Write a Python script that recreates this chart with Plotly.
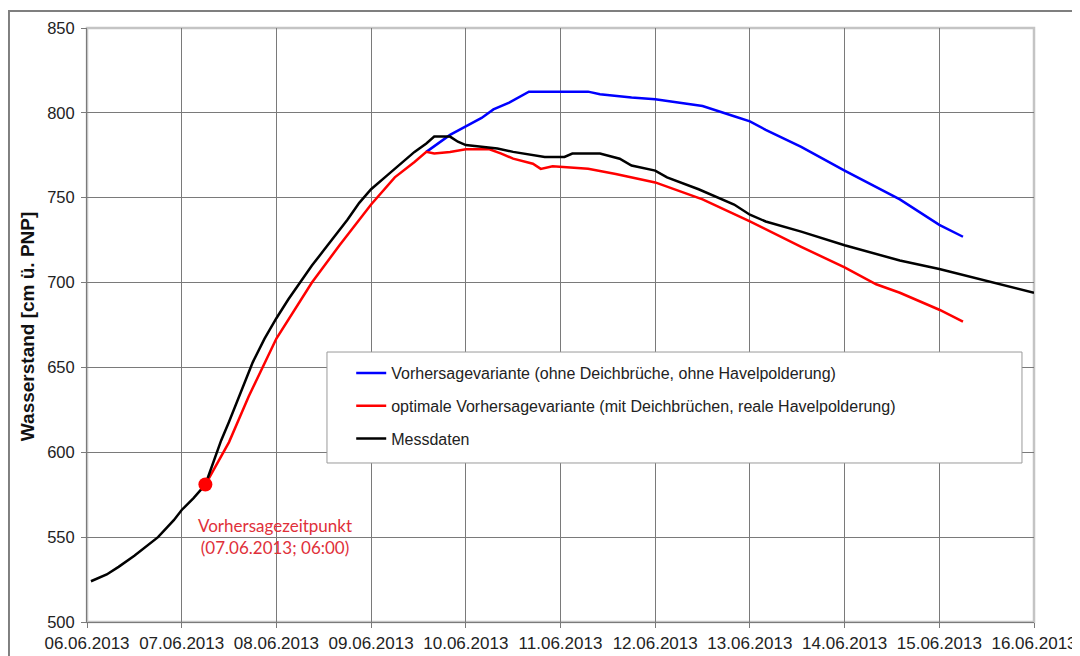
import plotly.graph_objects as go

# ---------------- data ----------------
mess_t = ["2013-06-06 01:00", "2013-06-06 05:00", "2013-06-06 08:00", "2013-06-06 12:00",
          "2013-06-06 18:00", "2013-06-06 22:00", "2013-06-07 00:00", "2013-06-07 03:00",
          "2013-06-07 06:00", "2013-06-07 08:00", "2013-06-07 10:00", "2013-06-07 12:00",
          "2013-06-07 15:00", "2013-06-07 18:00", "2013-06-07 21:00", "2013-06-08 00:00",
          "2013-06-08 03:00", "2013-06-08 06:00", "2013-06-08 09:00", "2013-06-08 12:00",
          "2013-06-08 15:00", "2013-06-08 18:00", "2013-06-08 21:00", "2013-06-09 00:00",
          "2013-06-09 04:00", "2013-06-09 08:00", "2013-06-09 11:00", "2013-06-09 14:00",
          "2013-06-09 16:00", "2013-06-09 20:00", "2013-06-09 22:00", "2013-06-10 00:00",
          "2013-06-10 04:00", "2013-06-10 08:00", "2013-06-10 12:00", "2013-06-10 17:00",
          "2013-06-10 20:00", "2013-06-11 01:00", "2013-06-11 03:00", "2013-06-11 10:00",
          "2013-06-11 15:00", "2013-06-11 18:00", "2013-06-12 00:00", "2013-06-12 03:00",
          "2013-06-12 11:00", "2013-06-12 20:00", "2013-06-13 00:00", "2013-06-13 04:00",
          "2013-06-13 13:00", "2013-06-14 00:00", "2013-06-14 08:00", "2013-06-14 14:00",
          "2013-06-15 00:00", "2013-06-15 05:00", "2013-06-15 12:00", "2013-06-15 15:00",
          "2013-06-16 00:00"]
mess_v = [524, 528, 532.5, 539,
          550, 560, 566, 573,
          581, 594, 607, 618,
          636, 653, 667, 679,
          690, 700, 710, 719,
          728, 737, 747, 755,
          763, 771, 777, 782,
          786, 786, 783, 781,
          780, 779, 777, 775,
          774, 774, 776, 776,
          773, 769, 766, 762,
          755, 746, 740, 736,
          730, 722, 717, 713,
          708, 705, 701, 699,
          694]

opt_t = ["2013-06-07 06:00", "2013-06-07 12:00", "2013-06-07 17:00", "2013-06-07 22:00",
         "2013-06-08 00:00", "2013-06-08 09:00", "2013-06-08 16:00", "2013-06-09 00:00",
         "2013-06-09 06:00", "2013-06-09 11:00", "2013-06-09 14:00", "2013-06-09 16:00",
         "2013-06-09 20:00", "2013-06-10 00:00", "2013-06-10 06:00", "2013-06-10 09:00",
         "2013-06-10 12:00", "2013-06-10 17:00", "2013-06-10 19:00", "2013-06-10 22:00",
         "2013-06-11 07:00", "2013-06-11 14:00", "2013-06-12 00:00", "2013-06-12 12:00",
         "2013-06-13 00:00", "2013-06-13 13:00", "2013-06-14 00:00", "2013-06-14 08:00",
         "2013-06-14 14:00", "2013-06-15 00:00", "2013-06-15 06:00"]
opt_v = [581, 606, 633, 657,
         667, 700, 722, 746,
         762, 771, 777, 776,
         777, 778.5, 778.5, 776,
         773, 770, 767, 768.5,
         767, 764, 759, 749,
         736, 721, 709, 699,
         694, 684, 677]

var_t = ["2013-06-09 14:00", "2013-06-09 20:00", "2013-06-10 00:00", "2013-06-10 04:00",
         "2013-06-10 07:00", "2013-06-10 11:00", "2013-06-10 16:00", "2013-06-11 07:00",
         "2013-06-11 10:00", "2013-06-11 18:00", "2013-06-12 00:00", "2013-06-12 03:00",
         "2013-06-12 12:00", "2013-06-12 20:00", "2013-06-13 00:00", "2013-06-13 04:00",
         "2013-06-13 13:00", "2013-06-14 00:00", "2013-06-14 08:00", "2013-06-14 14:00",
         "2013-06-15 00:00", "2013-06-15 06:00"]
var_v = [777, 787, 792, 797,
         802, 806, 812.5, 812.5,
         811, 809, 808, 807,
         804, 798, 795, 790,
         780, 766, 756, 749,
         734, 727]

forecast_t = ["2013-06-07 06:00"]
forecast_v = [581]

names = ["Vorhersagevariante (ohne Deichbrüche, ohne Havelpolderung)",
         "optimale Vorhersagevariante (mit Deichbrüchen, reale Havelpolderung)",
         "Messdaten"]
annot_text = "Vorhersagezeitpunkt<br>(07.06.2013; 06:00)"
y_title = "Wasserstand [cm ü. PNP]"

FONT = "Liberation Sans, Arial, sans-serif"

# ---------------- figure ----------------
fig = go.Figure()
fig.add_trace(go.Scatter(x=var_t, y=var_v, mode="lines", name=names[0],
                         line=dict(color="#0000ff", width=2.5), legendgroup="a"))
fig.add_trace(go.Scatter(x=opt_t, y=opt_v, mode="lines", name=names[1],
                         line=dict(color="#ff0000", width=2.5), legendgroup="b"))
fig.add_trace(go.Scatter(x=mess_t, y=mess_v, mode="lines", name=names[2],
                         line=dict(color="#000000", width=2.5), legendgroup="c"))
fig.add_trace(go.Scatter(x=forecast_t, y=forecast_v, mode="markers", showlegend=False,
                         marker=dict(color="#ff0000", size=14)))

fig.add_annotation(x=forecast_t[0], y=forecast_v[0], text=annot_text, showarrow=False,
                   xshift=70, yshift=-52, align="center",
                   font=dict(family="Lato, Open Sans, sans-serif", size=17, color="#e0303a"))

fig.add_annotation(x=-0.0634, y=0.498, xref="paper", yref="paper", text="<b>" + y_title + "</b>",
                   textangle=-90, showarrow=False, xanchor="center", yanchor="middle",
                   font=dict(family=FONT, size=19, color="#111"))

# outer frame (continues beyond the visible page on right/bottom)
fig.add_shape(type="rect", xref="paper", yref="paper", x0=-0.0824, y0=-0.2, x1=1.2, y1=1.0286,
              line=dict(color="#7f7f7f", width=2), layer="below")
# plot area border (top / right light grey)
fig.add_shape(type="rect", xref="paper", yref="paper", x0=0, y0=0, x1=1, y1=1,
              line=dict(color="#c4c4c4", width=2.5), layer="below")
# legend box
fig.add_shape(type="rect", xref="paper", yref="paper", x0=0.2534, y0=0.2677, x1=0.9873, y1=0.4545,
              line=dict(color="#9a9a9a", width=1), fillcolor="white", layer="above")

grid = "#7a7a7a"
fig.update_xaxes(type="date", range=["2013-06-06 00:00", "2013-06-16 00:00"],
                 dtick=86400000, tick0="2013-06-06", tickformat="%d.%m.%Y",
                 showgrid=True, gridcolor=grid, gridwidth=1,
                 showline=True, linecolor=grid, linewidth=1,
                 ticks="outside", ticklen=5, tickcolor=grid, ticklabelstandoff=1,
                 tickfont=dict(family=FONT, size=17, color="#222"),
                 zeroline=False, automargin=False)
fig.update_yaxes(range=[500, 850], dtick=50, showgrid=True, gridcolor=grid, gridwidth=1,
                 showline=True, linecolor=grid, linewidth=1,
                 ticks="outside", ticklen=5, tickcolor=grid, ticklabelstandoff=3,
                 tickfont=dict(family=FONT, size=16.5, color="#222"),
                 zeroline=False, automargin=False)

fig.update_layout(
    width=1072, height=648,
    margin=dict(l=79, r=46, t=20, b=34, autoexpand=False),
    paper_bgcolor="white", plot_bgcolor="white",
    showlegend=True,
    legend=dict(x=0.279, y=0.4478, xanchor="left", yanchor="top",
                bgcolor="rgba(0,0,0,0)", borderwidth=0,
                font=dict(family=FONT, size=16, color="#222"),
                tracegroupgap=9, itemwidth=30),
)

fig.write_html("out.html")
